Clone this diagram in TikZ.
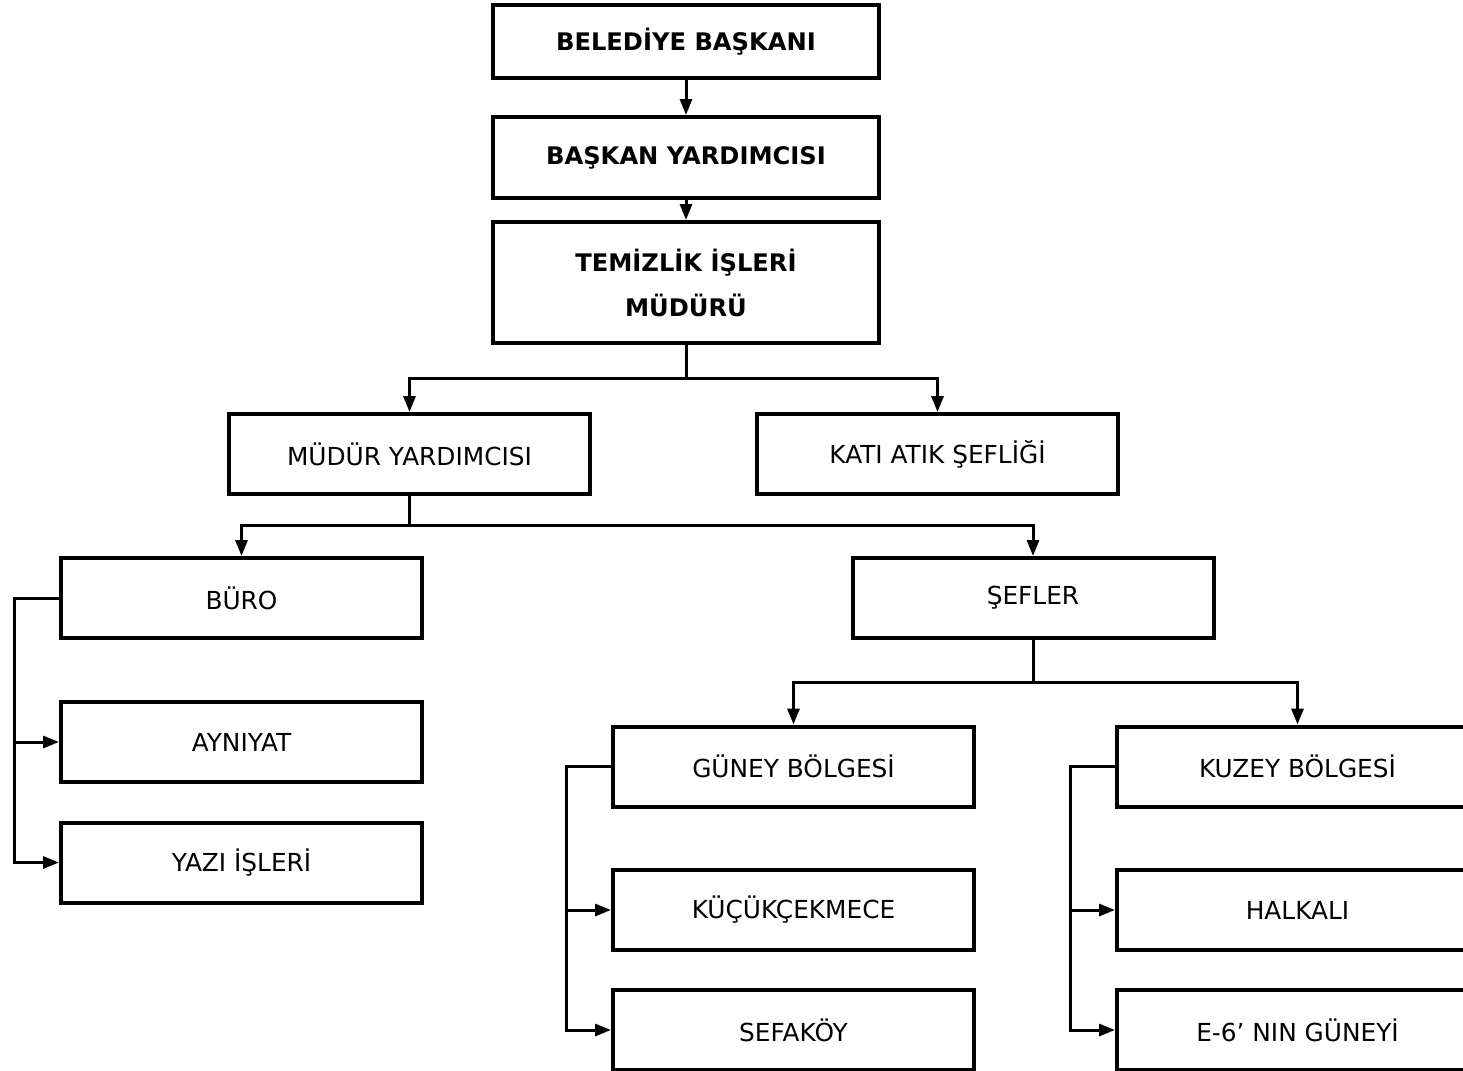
\documentclass[tikz,border=0pt]{standalone}
\usepackage{fontspec}
\setmainfont{DejaVu Sans}
\usetikzlibrary{arrows.meta}
\tikzset{
  kutu/.style={draw, line width=2pt, minimum width=180.5pt, minimum height=40pt, inner sep=0pt, font=\fontsize{12.4}{15}\selectfont},
  anakutu/.style={kutu, minimum width=193pt, align=center, font=\bfseries\fontsize{12.1}{22.5}\selectfont},
  ok/.style={line width=1.5pt, line cap=rect, -{Triangle[length=8pt,width=6pt]}},
  hat/.style={line width=1.5pt, line cap=rect}
}
\begin{document}
\begin{tikzpicture}[x=0.5pt,y=-0.5pt]
      \useasboundingbox (0,0) rectangle (1463,1071);
      \clip (0,0) rectangle (1463,1071);
      \draw
        (686,41.5) node[anakutu, minimum height=36.5pt] (bel){BELEDİYE BAŞKANI}
        (686,157.5) node[anakutu, minimum height=40.5pt] (bask){BAŞKAN YARDIMCISI}
        (686,282.5) node[anakutu, minimum height=60.5pt] (tem){TEMİZLİK İŞLERİ\\MÜDÜRÜ}
        (409.5,454) node[kutu] (mudyrd){MÜDÜR YARDIMCISI}
        (937.5,454) node[kutu] (kati){KATI ATIK ŞEFLİĞİ}
        (241.5,598) node[kutu] (buro){BÜRO}
        (1033,598) node[kutu] (sefler){ŞEFLER}
        (241.5,742) node[kutu] (ayniyat){AYNIYAT}
        (241.5,862.5) node[kutu] (yazi){YAZI İŞLERİ}
        (793.5,766.5) node[kutu] (guney){GÜNEY BÖLGESİ}
        (793.5,910) node[kutu] (kucuk){KÜÇÜKÇEKMECE}
        (793.5,1030) node[kutu] (sefakoy){SEFAKÖY}
        (1297.5,766.5) node[kutu] (kuzey){KUZEY BÖLGESİ}
        (1297.5,910) node[kutu] (halkali){HALKALI}
        (1297.5,1030) node[kutu] (e6){E-6’ NIN GÜNEYİ};
      \coordinate (t1) at (686,378);
      \coordinate (m1) at (409.5,525);
      \coordinate (s1) at (1033,682);
      \coordinate (b1) at (14,598);
      \coordinate (g1) at (566,766.5);
      \coordinate (k1) at (1070,766.5);
      \begin{scope}[hat]
        \draw (tem) to (t1);
        \draw (mudyrd) to (m1);
        \draw (sefler) to (s1);
        \draw (buro) to (b1);
        \draw (guney) to (g1);
        \draw (kuzey) to (k1);
      \end{scope}
      \begin{scope}[ok]
        \draw (bel) to (bask);
        \draw (bask) to (tem);
        \draw (t1) -| (mudyrd);
        \draw (t1) -| (kati);
        \draw (m1) -| (buro);
        \draw (m1) -| (sefler);
        \draw (s1) -| (guney);
        \draw (s1) -| (kuzey);
        \draw (b1) |- (ayniyat);
        \draw (b1) |- (yazi);
        \draw (g1) |- (kucuk);
        \draw (g1) |- (sefakoy);
        \draw (k1) |- (halkali);
        \draw (k1) |- (e6);
      \end{scope}
    \end{tikzpicture}
\end{document}
